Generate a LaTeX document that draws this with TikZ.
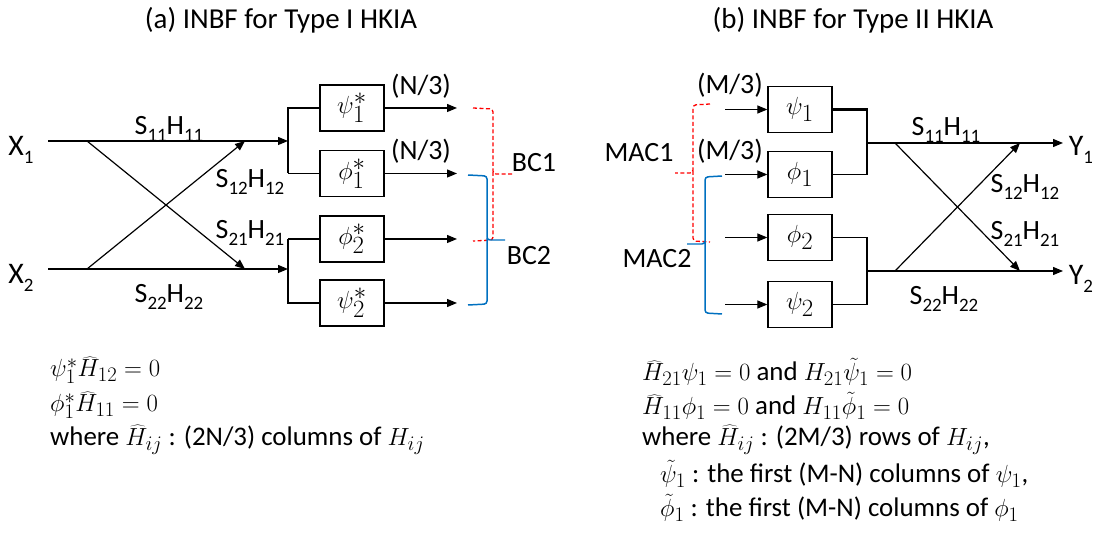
\documentclass[tikz,border=0pt]{standalone}
\usepackage{fontspec}
\setmainfont{Carlito}
\usetikzlibrary{arrows.meta}
\newcommand{\lsub}[1]{\raisebox{-0.28em}{\fontsize{19}{19}\selectfont #1}}
\newcommand{\M}[1]{{\fontsize{32}{34}\selectfont$#1$}}
\begin{document}
\begin{tikzpicture}[x=1bp,y=-1bp,
  line/.style={line width=1.2pt},
  arr/.style={line width=1.2pt,-{Triangle[length=10pt,width=8pt]}},
  bus/.style={line width=2.4pt},
  blk/.style={draw,line width=1.3pt,minimum width=64bp,minimum height=46bp,inner sep=0pt,font=\fontsize{33}{36}\selectfont},
  lbl/.style={inner sep=0pt,font=\fontsize{28}{30}\selectfont},
  big/.style={inner sep=0pt,font=\fontsize{30}{32}\selectfont},
  ttl/.style={inner sep=0pt,font=\fontsize{29}{32}\selectfont},
  eq/.style={inner sep=0pt,anchor=west,font=\fontsize{27}{30}\selectfont},
  redb/.style={draw=red,dash pattern=on 4bp off 2.5bp,line width=1.3pt,rounded corners=3bp},
  blueb/.style={draw={rgb,255:red,0;green,112;blue,192},line width=1.5pt,rounded corners=3bp}]
\useasboundingbox (0,0) rectangle (1100,540);
% titles
\node[ttl] (ta) at (281,20) {(a) INBF for Type I HKIA};
\node[ttl] (tb) at (853,20) {(b) INBF for Type II HKIA};
% ---------------- left part
\node[big] (X1) at (21,150) {X\lsub{1}};
\node[big] (X2) at (21,278) {X\lsub{2}};
\coordinate (x1s) at (48,141);
\coordinate (x2s) at (48,269);
\coordinate (c1) at (87,141);
\coordinate (c2) at (87,269);
\coordinate (e1) at (245,141);
\coordinate (e2) at (245,269);
\coordinate (bt) at (288,141);
\coordinate (bb) at (288,269);
\draw[arr] (x1s) -- (bt);
\draw[arr] (x2s) -- (bb);
\draw[arr] (c1) -- (e2);
\draw[arr] (c2) -- (e1);
\node[lbl] (s11a) at (169,129) {S\lsub{11}H\lsub{11}};
\node[lbl] (s12a) at (250,182) {S\lsub{12}H\lsub{12}};
\node[lbl] (s21a) at (250,233) {S\lsub{21}H\lsub{21}};
\node[lbl] (s22a) at (169,297) {S\lsub{22}H\lsub{22}};
\node[blk] (p1s) at (352,108) {$\psi_1^*$};
\node[blk] (f1s) at (352,173.5) {$\phi_1^*$};
\node[blk] (f2s) at (352,239) {$\phi_2^*$};
\node[blk] (p2s) at (352,303) {$\psi_2^*$};
\coordinate (bf1) at (288,173.5);
\coordinate (bf2) at (288,239);
\draw[bus] (p1s.west) -| (bf1);
\draw[line] (bf1) -- (f1s.west);
\draw[line] (f2s.west) -- (bf2);
\draw[bus] (bf2) |- (p2s.west);
\coordinate (o1) at (457,108);
\coordinate (o2) at (457,173.5);
\coordinate (o3) at (457,239);
\coordinate (o4) at (457,303);
\draw[arr] (p1s.east) -- (o1);
\draw[arr] (f1s.east) -- (o2);
\draw[arr] (f2s.east) -- (o3);
\draw[arr] (p2s.east) -- (o4);
\node[lbl] (n1) at (421,86) {(N/3)};
\node[lbl] (n2) at (421,151) {(N/3)};
\draw[redb] (473,108) -- (493,109) -- (493,174) -- (513,174);
\draw[redb] (493,172) -- (493,240) -- (473,241);
\draw[blueb] (468,175) -- (487,176) -- (487,240) -- (505,240);
\draw[blueb] (487,238) -- (487,304) -- (468,305);
\node[lbl] (bc1) at (534,163) {BC1};
\node[lbl] (bc2) at (529,256) {BC2};
% ---------------- right part
\node[blk] (p1) at (800,109.5) {$\psi_1$};
\node[blk] (f1) at (800,174.5) {$\phi_1$};
\node[blk] (f2) at (800,237.5) {$\phi_2$};
\node[blk] (p2) at (800,304.5) {$\psi_2$};
\coordinate (i1) at (725,109.5);
\coordinate (i2) at (725,174.5);
\coordinate (i3) at (725,237.5);
\coordinate (i4) at (725,304.5);
\draw[arr] (i1) -- (p1.west);
\draw[arr] (i2) -- (f1.west);
\draw[arr] (i3) -- (f2.west);
\draw[arr] (i4) -- (p2.west);
\node[lbl] (m1) at (730,85) {(M/3)};
\node[lbl] (m2) at (730,151) {(M/3)};
\draw[redb] (710,104) -- (693,105) -- (693,173) -- (675,173);
\draw[redb] (693,171) -- (693,241) -- (710,242);
\draw[blueb] (722,176) -- (705,177) -- (705,244) -- (687,244);
\draw[blueb] (705,242) -- (705,313) -- (722,314);
\node[lbl] (mac1) at (639,153) {MAC1};
\node[lbl] (mac2) at (657,259) {MAC2};
\coordinate (rt) at (867,143);
\coordinate (rb) at (867,271);
\draw[bus] (p1.east) -| (rt);
\draw[line] (rt) |- (f1.east);
\draw[line] (f2.east) -| (rb) |- (p2.east);
\coordinate (y1e) at (1063,143);
\coordinate (y2e) at (1063,271);
\coordinate (d1) at (895,143);
\coordinate (d2) at (895,271);
\coordinate (g1) at (1020,143);
\coordinate (g2) at (1020,271);
\draw[arr] (rt) -- (y1e);
\draw[arr] (rb) -- (y2e);
\draw[arr] (d1) -- (g2);
\draw[arr] (d2) -- (g1);
\node[big] (Y1) at (1081,150) {Y\lsub{1}};
\node[big] (Y2) at (1081,279) {Y\lsub{2}};
\node[lbl] (s11b) at (946,130) {S\lsub{11}H\lsub{11}};
\node[lbl] (s12b) at (1025,187) {S\lsub{12}H\lsub{12}};
\node[lbl] (s21b) at (1025,234) {S\lsub{21}H\lsub{21}};
\node[lbl] (s22b) at (944,299) {S\lsub{22}H\lsub{22}};
% ---------------- equations
\node[eq] (la) at (50,370) {\M{\psi_1^*\widehat{H}_{12} = 0}};
\node[eq] (lb) at (50,405) {\M{\phi_1^*\widehat{H}_{11} = 0}};
\node[eq] (lc) at (50,440) {where \M{\widehat{H}_{ij}} : (2N/3) columns of \M{H_{ij}}};
\node[eq] (ra) at (642,372) {\M{\widehat{H}_{21}\psi_1 = 0} and \M{H_{21}\tilde{\psi}_1 = 0}};
\node[eq] (rb2) at (642,406) {\M{\widehat{H}_{11}\phi_1 = 0} and \M{H_{11}\tilde{\phi}_1 = 0}};
\node[eq] (rc) at (642,440) {where \M{\widehat{H}_{ij}} : (2M/3) rows of \M{H_{ij}},};
\node[eq] (rd) at (660,474) {\M{\tilde{\psi}_1} : the first (M-N) columns of \M{\psi_1},};
\node[eq] (re) at (660,508) {\M{\tilde{\phi}_1} : the first (M-N) columns of \M{\phi_1}};
\end{tikzpicture}
\end{document}
